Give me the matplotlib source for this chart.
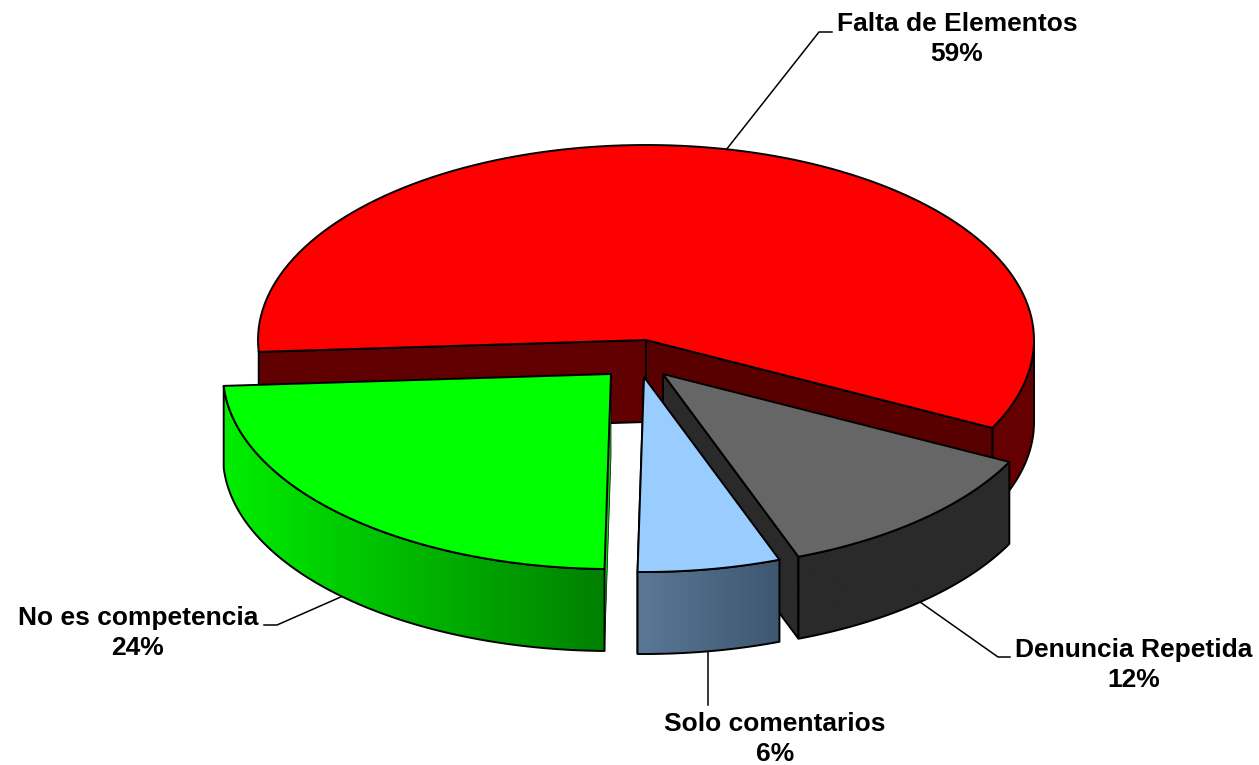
import numpy as np
import matplotlib
matplotlib.use("Agg")
import matplotlib.pyplot as plt
from matplotlib.patches import Polygon

plt.rcParams['font.family'] = ['Liberation Sans', 'DejaVu Sans']

# chart values
categories = ["Falta de Elementos", "Denuncia Repetida", "Solo comentarios", "No es competencia"]
percents = [59, 12, 6, 24]

# look of the slices, same order as categories
top_colors = ["#ff0000", "#666666", "#99ccff", "#00ff00"]
side_left = ["#660000", "#2a2a2a", "#5a7896", "#00ee00"]
side_right = ["#660000", "#2a2a2a", "#3f5670", "#008000"]
wall_colors = ["#600000", "#2a2a2a", "#4a6580", "#00d800"]
apex_x = [646, 663, 644, 611]
apex_y = [340, 374, 377, 374]

# label placement
label_x = [957, 1134, 775, 138]
label_y = [39, 665, 739, 633]
leader_x = [[726, 819, 832], [920, 998, 1010], [708, 708], [343, 277, 264]]
leader_y = [[150, 32, 32], [602, 657, 657], [652, 705], [596, 625, 625]]

RX = 388
RY = 195
DEPTH = 82
START_ANGLE = 183.5
LW = 1.4


def rim(cx, cy, a0, a1, n=120):
    t = np.radians(np.linspace(a0, a1, n))
    return cx + RX * np.cos(t), cy - RY * np.sin(t)


def draw_side(ax, cx, cy, a_high, a_low, left, right, z):
    # outer wall with a left to right shade, clipped to the band under the rim
    x, y = rim(cx, cy, a_high, a_low)
    xs = np.r_[x, x[::-1]]
    ys = np.r_[y, y[::-1] + DEPTH]
    c0 = np.array(matplotlib.colors.to_rgb(left))
    c1 = np.array(matplotlib.colors.to_rgb(right))
    shade = c0 + (c1 - c0) * np.linspace(0, 1, 256)[:, None]
    im = ax.imshow(shade[None, :, :], extent=(x.min(), x.max(), ys.max(), ys.min()),
                   aspect="auto", interpolation="bilinear", zorder=z)
    clip = Polygon(np.c_[xs, ys], closed=True, transform=ax.transData)
    im.set_clip_path(clip)
    ax.add_patch(Polygon(np.c_[xs, ys], closed=True, fill=False, edgecolor="black",
                         linewidth=LW, joinstyle="round", zorder=z + 0.5))


def draw_wall(ax, cx, cy, a, color, z, lw=LW):
    x, y = rim(cx, cy, a, a, 1)
    ax.fill([cx, x[0], x[0], cx], [cy, y[0], y[0] + DEPTH, cy + DEPTH],
            facecolor=color, edgecolor="black", linewidth=lw, zorder=z)


def draw_top(ax, cx, cy, a0, a1, color, z):
    x, y = rim(cx, cy, a0, a1)
    ax.fill(np.r_[cx, x], np.r_[cy, y], facecolor=color, edgecolor="black",
            linewidth=LW, joinstyle="round", zorder=z)


fig = plt.figure(figsize=(12.59, 7.65), dpi=100)
ax = fig.add_axes([0, 0, 1, 1])

# clockwise angles of each slice
total = sum(percents)
ends = START_ANGLE - np.cumsum(percents) * 360.0 / total
starts = np.r_[START_ANGLE, ends[:-1]]

# red big slice first
draw_side(ax, apex_x[0], apex_y[0], 0, ends[0], side_left[0], side_right[0], 2)
draw_wall(ax, apex_x[0], apex_y[0], starts[0], wall_colors[0], 3)
draw_wall(ax, apex_x[0], apex_y[0], ends[0], "#580000", 4)
draw_top(ax, apex_x[0], apex_y[0], starts[0], ends[0], top_colors[0], 5)

# then the pulled out slices, grey goes under the blue one
wall_angles = [None, ends[1], ends[2], starts[3]]
wall_widths = [None, LW, LW, 0.5]
for i, z in zip([1, 2, 3], [10, 20, 30]):
    draw_wall(ax, apex_x[i], apex_y[i], wall_angles[i], wall_colors[i], z, wall_widths[i])
    draw_side(ax, apex_x[i], apex_y[i], starts[i], ends[i], side_left[i], side_right[i], z + 1)
    draw_top(ax, apex_x[i], apex_y[i], starts[i], ends[i], top_colors[i], z + 3)

for xs, ys in zip(leader_x, leader_y):
    ax.plot(xs, ys, color="black", lw=1.1, zorder=1)

for name, p, x, y in zip(categories, percents, label_x, label_y):
    ax.text(x, y, f"{name}\n{p}%", ha="center", va="center", fontsize=19,
            fontweight="bold", color="black", linespacing=1.33, zorder=50)

ax.set_xlim(0, 1259)
ax.set_ylim(765, 0)
ax.axis("off")

plt.savefig("out.png", dpi=100)
